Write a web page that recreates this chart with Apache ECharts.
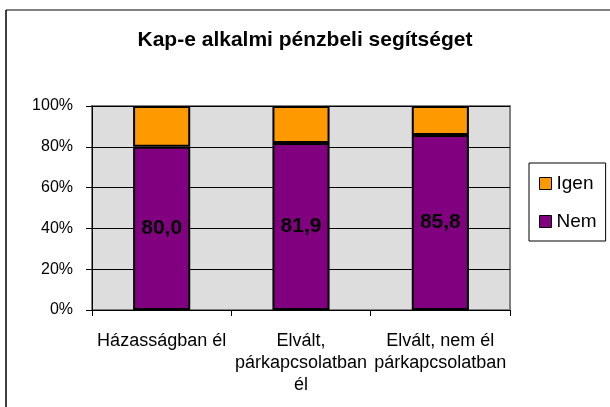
<!DOCTYPE html>
<html>
<head>
<meta charset="utf-8">
<script src="https://cdn.jsdelivr.net/npm/echarts@6/dist/echarts.min.js"></script>
<style>
  html, body { margin: 0; padding: 0; background: #fff; }
  #chart { width: 610px; height: 407px; }
</style>
</head>
<body>
<div id="chart"></div>
<script>
// kategóriák és értékek
const categories = ['Házasságban él', 'Elvált,\npárkapcsolatban\nél', 'Elvált, nem él\npárkapcsolatban']
const nemValues = [80.0, 81.9, 85.8]
const igenValues = [20.0, 18.1, 14.2]
const yTicks = [0, 20, 40, 60, 80, 100]

const font = "'Liberation Sans', Arial, sans-serif"
const fmt = v => v.toFixed(1).replace('.', ',')

let chart = echarts.init(document.getElementById('chart'))

chart.setOption({
  animation: false,
  backgroundColor: '#fff',
  textStyle: { fontFamily: font },
  title: {
    text: 'Kap-e alkalmi pénzbeli segítséget',
    left: 'center',
    top: 25,
    textStyle: { fontSize: 21, fontWeight: 'bold', color: '#000', fontFamily: font }
  },
  legend: {
    data: ['Igen', 'Nem'],
    orient: 'vertical',
    left: 529,
    top: 163,
    itemWidth: 12,
    itemHeight: 12,
    itemGap: 19,
    padding: [11, 9, 10, 10],
    borderColor: '#000',
    borderWidth: 1,
    icon: 'rect',
    itemStyle: { borderColor: '#000', borderWidth: 1 },
    textStyle: { fontSize: 19, color: '#000', fontFamily: font }
  },
  grid: {
    left: 92,
    right: 100,
    top: 106,
    bottom: 97,
    show: true,
    backgroundColor: '#dddddd',
    borderColor: '#808080',
    borderWidth: 2
  },
  xAxis: {
    type: 'category',
    data: categories,
    axisLine: { lineStyle: { color: '#000', width: 1 } },
    axisTick: { show: true, length: 6, inside: false, lineStyle: { color: '#000' } },
    axisLabel: {
      interval: 0,
      margin: 20,
      fontSize: 18,
      lineHeight: 22,
      color: '#000',
      fontFamily: font
    }
  },
  yAxis: {
    type: 'value',
    min: yTicks[0],
    max: yTicks[yTicks.length - 1],
    interval: 20,
    axisLine: { show: true, lineStyle: { color: '#000', width: 1 } },
    axisTick: { show: true, length: 6, lineStyle: { color: '#000' } },
    splitLine: { show: true, lineStyle: { color: '#000', width: 1 } },
    axisLabel: {
      formatter: '{value}%',
      margin: 19,
      fontSize: 16,
      color: '#000',
      fontFamily: font
    }
  },
  series: [
    {
      name: 'Nem',
      type: 'bar',
      stack: 'all',
      barWidth: '41%',
      data: nemValues,
      itemStyle: { color: '#800080', borderColor: '#000', borderWidth: 2 },
      label: {
        show: true,
        position: 'inside',
        formatter: p => fmt(p.value),
        fontSize: 21,
        fontWeight: 'bold',
        color: '#000',
        fontFamily: font
      }
    },
    {
      name: 'Igen',
      type: 'bar',
      stack: 'all',
      data: igenValues,
      itemStyle: { color: '#ff9900', borderColor: '#000', borderWidth: 2 }
    }
  ],
  graphic: [
    // keret bal és felső éle
    { type: 'line', silent: true, shape: { x1: 6, y1: 10, x2: 6, y2: 407 }, style: { stroke: '#404040', lineWidth: 2 } },
    { type: 'line', silent: true, shape: { x1: 6, y1: 10, x2: 610, y2: 10 }, style: { stroke: '#000', lineWidth: 1 } }
  ]
})
</script>
</body>
</html>
